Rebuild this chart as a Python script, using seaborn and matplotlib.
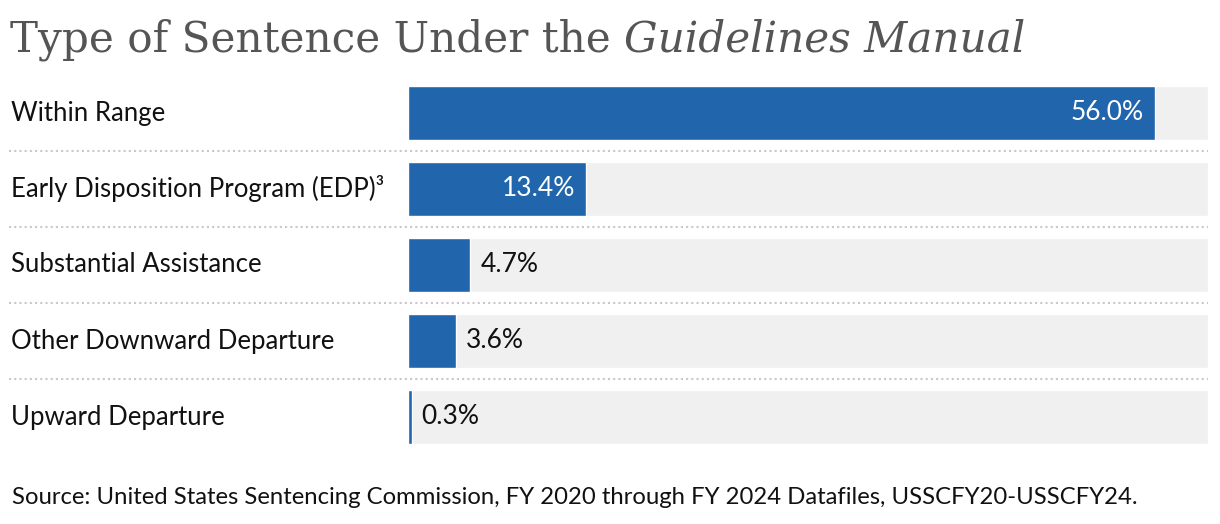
import matplotlib
matplotlib.use("Agg")
import matplotlib.pyplot as plt
import seaborn as sns
import pandas as pd

# data
categories = [
    "Within Range",
    "Early Disposition Program (EDP)\u00b3",
    "Substantial Assistance",
    "Other Downward Departure",
    "Upward Departure",
]
shares = [56.0, 13.4, 4.7, 3.6, 0.3]
x_max = 60

title_plain = "Type of Sentence Under the "
title_italic = "Guidelines Manual"
source = "Source: United States Sentencing Commission, FY 2020 through FY 2024 Datafiles, USSCFY20-USSCFY24."

bar_color = "#2166ac"
track_color = "#f0f0f0"
label_font = "Lato"

sns.set_style("white")
plt.rcParams["font.family"] = [label_font, "DejaVu Sans"]

df = pd.DataFrame({"category": categories, "share": shares})
df["track"] = x_max

fig = plt.figure(figsize=(12.2, 5.24), dpi=100)
ax = fig.add_axes([407.5 / 1220, 1 - 455 / 524, 800.5 / 1220, 380 / 524])

# grey track behind every bar
sns.barplot(data=df, x="track", y="category", orient="h", color=track_color,
            saturation=1, width=0.71, ax=ax)
sns.barplot(data=df, x="share", y="category", orient="h", color=bar_color,
            saturation=1, width=0.71, ax=ax)

ax.set_xlim(0, x_max)
ax.set_ylim(len(categories) - 0.5, -0.5)
ax.set_xlabel("")
ax.set_ylabel("")
ax.set_xticks([])
ax.set_yticks([])
sns.despine(ax=ax, left=True, bottom=True)

# category labels and value labels
for i, (cat, val) in enumerate(zip(categories, shares)):
    ax.text(-(408 - 12) / 800 * x_max, i, cat, ha="left", va="center",
            fontsize=18.5, color="#111111")
    if val > 10:
        ax.text(val - 0.8, i, f"{val:.1f}%", ha="right", va="center",
                fontsize=19, color="white")
    else:
        ax.text(val + 0.75, i, f"{val:.1f}%", ha="left", va="center",
                fontsize=19, color="#111111")

# dotted separators
for i in range(len(categories) - 1):
    ax.axhline(i + 0.5, xmin=(10 - 408) / 800, xmax=1, color="#c8c8c8",
               linestyle=(0, (1, 1.5)), linewidth=1.5, clip_on=False)

# title with italic part
t1 = fig.text(10 / 1220, 1 - 40 / 524, title_plain, fontsize=30.3,
              family="DejaVu Serif", color="#555555", va="center", ha="left")
fig.canvas.draw()
bb = t1.get_window_extent(renderer=fig.canvas.get_renderer())
fig.text(bb.x1 / fig.bbox.width, 1 - 40 / 524, title_italic, fontsize=30.3,
         family="DejaVu Serif", style="italic", color="#555555", va="center",
         ha="left")

fig.text(12 / 1220, 1 - 497 / 524, source, fontsize=17.2, color="#111111",
         va="center", ha="left")

fig.savefig("out.png", dpi=100)
